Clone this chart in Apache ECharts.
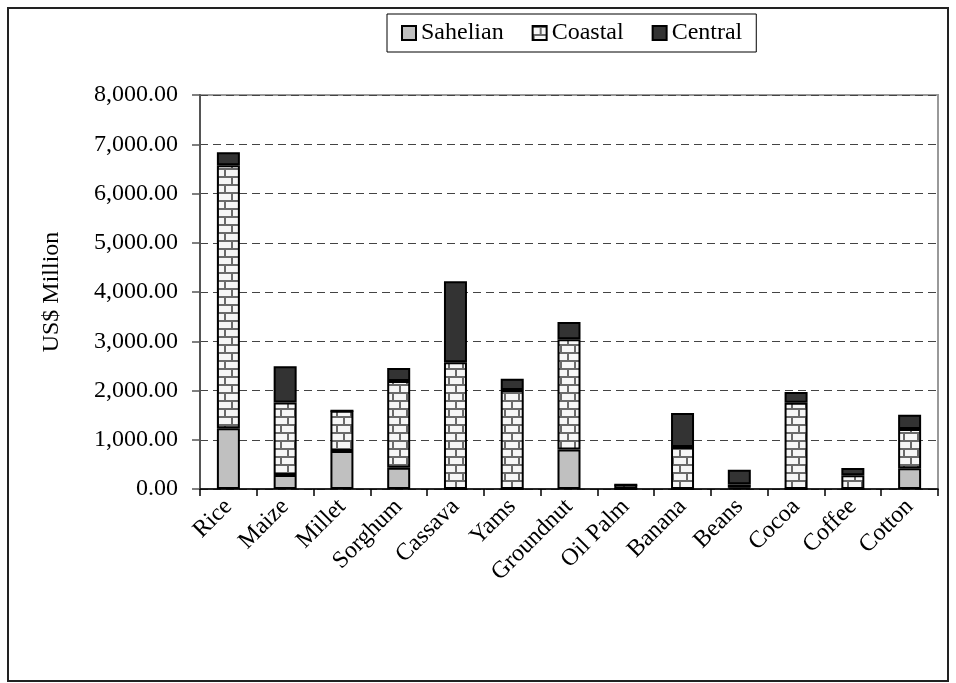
<!DOCTYPE html>
<html>
<head>
<meta charset="utf-8">
<script src="https://cdn.jsdelivr.net/npm/echarts@6/dist/echarts.min.js"></script>
<style>
  html, body { margin: 0; padding: 0; background: #fff; }
  #chart { width: 956px; height: 683px; }
</style>
</head>
<body>
<div id="chart"></div>
<script>
// Crop value by region, US$ million
const crops = ['Rice', 'Maize', 'Millet', 'Sorghum', 'Cassava', 'Yams', 'Groundnut',
               'Oil Palm', 'Banana', 'Beans', 'Cocoa', 'Coffee', 'Cotton'];
const sahelian = [1232, 284, 772, 433, 0, 0, 800, 0, 0, 25, 0, 0, 420];
const coastal  = [5340, 1470, 818, 1760, 2573, 2010, 2240, 85, 853, 70, 1750, 278, 798];
const central  = [265, 738, 0, 264, 1644, 230, 351, 0, 690, 298, 220, 148, 291];
const yTicks   = [0, 1000, 2000, 3000, 4000, 5000, 6000, 7000, 8000];

const FONT = '"Liberation Serif", "Times New Roman", serif';
const FS = 24;

// Horizontal brick fill for the coastal series
function brickPattern() {
  const c = document.createElement('canvas');
  c.width = 14; c.height = 16;
  const g = c.getContext('2d');
  g.fillStyle = '#f6f6f6';
  g.fillRect(0, 0, 14, 16);
  g.fillStyle = '#6a6a6a';
  g.fillRect(0, 0, 14, 2);
  g.fillRect(0, 8, 14, 2);
  g.fillRect(7, 2, 2, 6);
  g.fillRect(0, 10, 2, 6);
  return c;
}

function fmt(v) {
  return v.toFixed(2).replace(/\B(?=(\d{3})+(?!\d))/g, ',');
}

const chart = echarts.init(document.getElementById('chart'), null, { renderer: 'canvas' });

const barStyle = (color) => ({ color: color, borderColor: '#000', borderWidth: 2 });

chart.setOption({
  animation: false,
  backgroundColor: '#fff',
  textStyle: { fontFamily: FONT },
  graphic: [{
    type: 'rect',
    shape: { x: 8, y: 8, width: 940, height: 673 },
    style: { fill: 'none', stroke: '#222', lineWidth: 2 },
    silent: true
  }],
  legend: {
    left: 387, top: 14,
    padding: [7, 14],
    itemGap: 28,
    itemWidth: 14, itemHeight: 14,
    borderColor: '#000', borderWidth: 1,
    icon: 'rect',
    textStyle: { fontFamily: FONT, fontSize: FS, color: '#000' },
    data: ['Sahelian', 'Coastal', 'Central']
  },
  grid: {
    left: 200, right: 18, top: 95, bottom: 194,
    show: true, borderColor: '#999', borderWidth: 2, backgroundColor: 'transparent'
  },
  xAxis: {
    type: 'category',
    data: crops,
    boundaryGap: true,
    axisLine: { lineStyle: { color: '#000', width: 1.5 } },
    axisTick: { show: true, length: 7, lineStyle: { color: '#000', width: 1.5 } },
    axisLabel: { rotate: 45, margin: 14, fontFamily: FONT, fontSize: FS, color: '#000', interval: 0 }
  },
  yAxis: {
    type: 'value',
    min: yTicks[0], max: yTicks[yTicks.length - 1], interval: 1000,
    name: 'US$ Million',
    nameLocation: 'middle',
    nameGap: 136,
    nameTextStyle: { fontFamily: FONT, fontSize: FS, color: '#000' },
    axisLine: { show: true, lineStyle: { color: '#555', width: 2 } },
    axisTick: { show: true, inside: false, length: 8, lineStyle: { color: '#555', width: 1.5 } },
    axisLabel: { margin: 22, fontFamily: FONT, fontSize: FS, color: '#000', formatter: fmt },
    splitLine: { show: true, lineStyle: { color: '#444', width: 1, type: [8, 5] } }
  },
  series: [
    { name: 'Sahelian', type: 'bar', stack: 'v', barWidth: 23, data: sahelian, itemStyle: barStyle('#c0c0c0') },
    { name: 'Coastal', type: 'bar', stack: 'v', barWidth: 23, data: coastal,
      itemStyle: barStyle({ image: brickPattern(), repeat: 'repeat' }) },
    { name: 'Central', type: 'bar', stack: 'v', barWidth: 23, data: central, itemStyle: barStyle('#333333') }
  ]
});
</script>
</body>
</html>
